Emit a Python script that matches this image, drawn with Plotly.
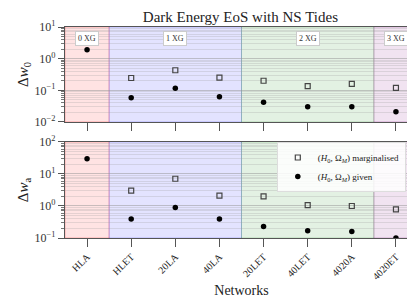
import plotly.graph_objects as go
from plotly.subplots import make_subplots

networks = ["HLA", "HLET", "20LA", "40LA", "20LET", "40LET", "4020A", "4020ET"]
w0_marg = [None, 0.245, 0.43, 0.25, 0.20, 0.135, 0.16, 0.12]
w0_given = [1.9, 0.058, 0.116, 0.062, 0.042, 0.030, 0.030, 0.021]
wa_marg = [None, 3.0, 7.1, 2.1, 2.0, 1.07, 1.0, 0.79]
wa_given = [30.0, 0.39, 0.89, 0.39, 0.23, 0.17, 0.16, 0.10]
w0_tickvals = [0.01, 0.1, 1, 10]
w0_ticktext = ["10<sup>−2</sup>", "10<sup>−1</sup>", "10<sup>0</sup>", "10<sup>1</sup>"]
wa_tickvals = [0.1, 1, 10, 100]
wa_ticktext = ["10<sup>−1</sup>", "10<sup>0</sup>", "10<sup>1</sup>", "10<sup>2</sup>"]
groups = ["0 XG", "1 XG", "2 XG", "3 XG"]
group_label_x = [0, 2, 5, 7]
group_spans = [(-0.5, 0.5), (0.5, 3.5), (3.5, 6.5), (6.5, 7.5)]
group_fill = ["rgba(255,0,0,0.11)", "rgba(0,0,255,0.11)", "rgba(0,128,0,0.11)", "rgba(128,0,128,0.11)"]
group_line = ["rgba(255,0,0,0.25)", "rgba(0,0,255,0.2)", "rgba(0,128,0,0.2)", "rgba(128,0,128,0.25)"]

xs = list(range(len(networks)))
FONT = "Liberation Serif"

fig = make_subplots(rows=2, cols=1, shared_xaxes=True, vertical_spacing=0.0)

marg_style = dict(symbol="square-open", size=5, color="#444", line=dict(width=1.2, color="#444"))
given_style = dict(symbol="circle", size=5.5, color="black")

for row, (marg, given) in enumerate([(w0_marg, w0_given), (wa_marg, wa_given)], start=1):
    fig.add_trace(go.Scatter(x=xs, y=marg, mode="markers", marker=marg_style,
                             name="(<i>H</i><sub>0</sub>, Ω<sub><i>M</i></sub>) marginalised",
                             showlegend=(row == 2)), row=row, col=1)
    fig.add_trace(go.Scatter(x=xs, y=given, mode="markers", marker=given_style,
                             name="(<i>H</i><sub>0</sub>, Ω<sub><i>M</i></sub>) given",
                             showlegend=(row == 2)), row=row, col=1)

for row, yref in [(1, "y"), (2, "y2")]:
    for (x0, x1), fc, lc in zip(group_spans, group_fill, group_line):
        fig.add_shape(type="rect", xref="x", yref=f"{yref} domain", x0=x0, x1=x1, y0=0, y1=1,
                      fillcolor=fc, line=dict(color=lc, width=1), layer="below")

for g, xc in zip(groups, group_label_x):
    fig.add_annotation(x=xc, y=0.64, xref="x", yref="y", text=g, showarrow=False,
                       font=dict(family=FONT, size=8, color="#333"),
                       bgcolor="white", bordercolor="#ccc", borderwidth=1, borderpad=2)

axis_common = dict(showline=True, mirror=True, linecolor="#555", linewidth=1.2)
fig.update_xaxes(range=[-0.5, 7.5], tickvals=xs, ticktext=networks, ticks="outside",
                 ticklen=8, tickcolor="#555", showgrid=False, zeroline=False, **axis_common)
fig.update_xaxes(tickangle=-45, tickfont=dict(family=FONT, size=10, color="#222"),
                 title=dict(text="Networks", font=dict(family=FONT, size=14, color="#222"), standoff=4),
                 row=2, col=1)
fig.update_xaxes(showticklabels=False, row=1, col=1)

yax_common = dict(type="log", ticks="outside", ticklen=6,
                  tickcolor="#555", showgrid=True, gridcolor="rgba(150,150,150,0.35)", gridwidth=1,
                  tickfont=dict(family=FONT, size=12, color="#333"), zeroline=False,
                  minor=dict(showgrid=True, gridcolor="rgba(150,150,150,0.25)", ticks="outside",
                             ticklen=3, tickcolor="#777", dtick="D1"),
                  **axis_common)
fig.update_yaxes(range=[-2, 1], domain=[0.55, 1.0], tickvals=w0_tickvals, ticktext=w0_ticktext,
                 title=dict(text="Δ<i>w</i><sub>0</sub>", font=dict(family=FONT, size=15, color="#222"), standoff=2),
                 row=1, col=1, **yax_common)
fig.update_yaxes(range=[-1, 2], domain=[0.0, 0.455], tickvals=wa_tickvals, ticktext=wa_ticktext,
                 title=dict(text="Δ<i>w</i><sub>a</sub>", font=dict(family=FONT, size=15, color="#222"), standoff=2),
                 row=2, col=1, **yax_common)

fig.update_layout(
    width=415, height=300,
    margin=dict(l=57, r=5, t=19, b=70),
    paper_bgcolor="white", plot_bgcolor="white",
    title=dict(text="Dark Energy EoS with NS Tides", x=0.56, xanchor="center", y=0.99, yanchor="top",
               font=dict(family=FONT, size=15, color="#222")),
    font=dict(family=FONT),
    legend=dict(x=0.6, xanchor="left", y=0.455, yanchor="top",
                bgcolor="rgba(255,255,255,0.85)", bordercolor="#ddd", borderwidth=1,
                font=dict(family=FONT, size=9, color="#222"), tracegroupgap=0, itemwidth=30),
    showlegend=True,
)

fig.write_html("out.html")
